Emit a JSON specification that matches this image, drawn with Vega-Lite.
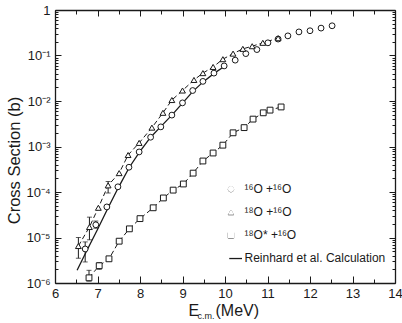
{
  "$schema": "https://vega.github.io/schema/vega-lite/v6.json",
  "width": 340,
  "height": 273,
  "autosize": "none",
  "padding": {"left": 55, "top": 10, "right": 7, "bottom": 40},
  "background": "white",
  "config": {
    "font": "Liberation Sans",
    "view": {"stroke": null},
    "axis": {"domainColor": "#1a1a1a", "domainWidth": 1.3, "tickColor": "#1a1a1a", "tickWidth": 1, "labelColor": "#1a1a1a", "titleColor": "#1a1a1a", "grid": false, "labelFont": "Liberation Sans", "titleFont": "Liberation Sans", "titleFontWeight": "normal"},
    "legend": {"labelFont": "Liberation Sans"}
  },
  "datasets": {
    "points": [
      {"E": 6.71, "xs": 5.6e-6, "series": "¹⁶O +¹⁶O"},
      {"E": 6.96, "xs": 1.9e-5, "series": "¹⁶O +¹⁶O"},
      {"E": 7.22, "xs": 4.7e-5, "series": "¹⁶O +¹⁶O"},
      {"E": 7.48, "xs": 1.3e-4, "series": "¹⁶O +¹⁶O"},
      {"E": 7.74, "xs": 3.5e-4, "series": "¹⁶O +¹⁶O"},
      {"E": 7.98, "xs": 7.6e-4, "series": "¹⁶O +¹⁶O"},
      {"E": 8.25, "xs": 1.6e-3, "series": "¹⁶O +¹⁶O"},
      {"E": 8.49, "xs": 2.7e-3, "series": "¹⁶O +¹⁶O"},
      {"E": 8.75, "xs": 4.9e-3, "series": "¹⁶O +¹⁶O"},
      {"E": 9.0, "xs": 9.1e-3, "series": "¹⁶O +¹⁶O"},
      {"E": 9.24, "xs": 1.7e-2, "series": "¹⁶O +¹⁶O"},
      {"E": 9.48, "xs": 2.7e-2, "series": "¹⁶O +¹⁶O"},
      {"E": 9.74, "xs": 4.1e-2, "series": "¹⁶O +¹⁶O"},
      {"E": 9.98, "xs": 5.9e-2, "series": "¹⁶O +¹⁶O"},
      {"E": 10.24, "xs": 7.9e-2, "series": "¹⁶O +¹⁶O"},
      {"E": 10.49, "xs": 0.11, "series": "¹⁶O +¹⁶O"},
      {"E": 10.75, "xs": 0.135, "series": "¹⁶O +¹⁶O"},
      {"E": 11.01, "xs": 0.19, "series": "¹⁶O +¹⁶O"},
      {"E": 11.25, "xs": 0.23, "series": "¹⁶O +¹⁶O"},
      {"E": 11.48, "xs": 0.27, "series": "¹⁶O +¹⁶O"},
      {"E": 11.74, "xs": 0.33, "series": "¹⁶O +¹⁶O"},
      {"E": 12.0, "xs": 0.35, "series": "¹⁶O +¹⁶O"},
      {"E": 12.26, "xs": 0.4, "series": "¹⁶O +¹⁶O"},
      {"E": 12.52, "xs": 0.45, "series": "¹⁶O +¹⁶O"},
      {"E": 6.55, "xs": 6.5e-6, "series": "¹⁸O +¹⁶O"},
      {"E": 6.81, "xs": 1.7e-5, "series": "¹⁸O +¹⁶O"},
      {"E": 7.02, "xs": 4.5e-5, "series": "¹⁸O +¹⁶O"},
      {"E": 7.25, "xs": 1.4e-4, "series": "¹⁸O +¹⁶O"},
      {"E": 7.51, "xs": 2.6e-4, "series": "¹⁸O +¹⁶O"},
      {"E": 7.72, "xs": 6.5e-4, "series": "¹⁸O +¹⁶O"},
      {"E": 7.98, "xs": 1.2e-3, "series": "¹⁸O +¹⁶O"},
      {"E": 8.28, "xs": 2.6e-3, "series": "¹⁸O +¹⁶O"},
      {"E": 8.54, "xs": 5.5e-3, "series": "¹⁸O +¹⁶O"},
      {"E": 8.75, "xs": 1.05e-2, "series": "¹⁸O +¹⁶O"},
      {"E": 9.0, "xs": 1.7e-2, "series": "¹⁸O +¹⁶O"},
      {"E": 9.27, "xs": 2.9e-2, "series": "¹⁸O +¹⁶O"},
      {"E": 9.48, "xs": 4.1e-2, "series": "¹⁸O +¹⁶O"},
      {"E": 9.72, "xs": 5.6e-2, "series": "¹⁸O +¹⁶O"},
      {"E": 9.95, "xs": 8.3e-2, "series": "¹⁸O +¹⁶O"},
      {"E": 10.19, "xs": 0.11, "series": "¹⁸O +¹⁶O"},
      {"E": 10.42, "xs": 0.14, "series": "¹⁸O +¹⁶O"},
      {"E": 10.64, "xs": 0.16, "series": "¹⁸O +¹⁶O"},
      {"E": 10.89, "xs": 0.19, "series": "¹⁸O +¹⁶O"},
      {"E": 11.25, "xs": 0.24, "series": "¹⁸O +¹⁶O"},
      {"E": 6.8, "xs": 1.3e-6, "series": "¹⁸O* +¹⁶O"},
      {"E": 7.04, "xs": 2.4e-6, "series": "¹⁸O* +¹⁶O"},
      {"E": 7.27, "xs": 3.4e-6, "series": "¹⁸O* +¹⁶O"},
      {"E": 7.51, "xs": 8.3e-6, "series": "¹⁸O* +¹⁶O"},
      {"E": 7.75, "xs": 1.55e-5, "series": "¹⁸O* +¹⁶O"},
      {"E": 8.0, "xs": 2.6e-5, "series": "¹⁸O* +¹⁶O"},
      {"E": 8.31, "xs": 4.5e-5, "series": "¹⁸O* +¹⁶O"},
      {"E": 8.55, "xs": 7.4e-5, "series": "¹⁸O* +¹⁶O"},
      {"E": 8.78, "xs": 1.1e-4, "series": "¹⁸O* +¹⁶O"},
      {"E": 9.02, "xs": 1.5e-4, "series": "¹⁸O* +¹⁶O"},
      {"E": 9.25, "xs": 2.6e-4, "series": "¹⁸O* +¹⁶O"},
      {"E": 9.48, "xs": 4.8e-4, "series": "¹⁸O* +¹⁶O"},
      {"E": 9.72, "xs": 7.2e-4, "series": "¹⁸O* +¹⁶O"},
      {"E": 9.95, "xs": 1.07e-3, "series": "¹⁸O* +¹⁶O"},
      {"E": 10.19, "xs": 2.0e-3, "series": "¹⁸O* +¹⁶O"},
      {"E": 10.45, "xs": 2.6e-3, "series": "¹⁸O* +¹⁶O"},
      {"E": 10.66, "xs": 4.0e-3, "series": "¹⁸O* +¹⁶O"},
      {"E": 10.9, "xs": 5.5e-3, "series": "¹⁸O* +¹⁶O"},
      {"E": 11.06, "xs": 6.3e-3, "series": "¹⁸O* +¹⁶O"},
      {"E": 11.32, "xs": 7.4e-3, "series": "¹⁸O* +¹⁶O"}
    ],
    "errors": [
      {"E": 6.55, "lo": 3.5e-6, "hi": 1.0e-5},
      {"E": 6.81, "lo": 8.9e-6, "hi": 2.8e-5},
      {"E": 6.71, "lo": 2.9e-6, "hi": 8.0e-6},
      {"E": 6.96, "lo": 1.6e-5, "hi": 2.3e-5},
      {"E": 7.25, "lo": 9.5e-5, "hi": 1.7e-4},
      {"E": 6.8, "lo": 1.1e-6, "hi": 1.9e-6},
      {"E": 7.04, "lo": 2.0e-6, "hi": 2.8e-6}
    ],
    "calc": [
      {"E": 6.52, "xs": 1.9e-6},
      {"E": 6.75, "xs": 5.2e-6},
      {"E": 7.0, "xs": 1.5e-5},
      {"E": 7.25, "xs": 4.5e-5},
      {"E": 7.5, "xs": 1.3e-4},
      {"E": 7.75, "xs": 3.5e-4},
      {"E": 8.0, "xs": 7.8e-4},
      {"E": 8.25, "xs": 1.6e-3},
      {"E": 8.5, "xs": 2.8e-3},
      {"E": 8.75, "xs": 4.9e-3},
      {"E": 9.0, "xs": 9.0e-3},
      {"E": 9.25, "xs": 1.65e-2},
      {"E": 9.5, "xs": 2.7e-2},
      {"E": 9.75, "xs": 4.1e-2},
      {"E": 10.0, "xs": 5.9e-2}
    ],
    "key": [{"k": 1}]
  },
  "resolve": {"axis": {"x": "independent", "y": "independent"}},
  "layer": [
    {
      "data": {"name": "calc"},
      "mark": {"type": "line", "color": "#1a1a1a", "strokeWidth": 1.3},
      "encoding": {
        "x": {"field": "E", "type": "quantitative", "scale": {"domain": [6, 14], "nice": false, "zero": false},
          "axis": {
            "orient": "bottom",
            "values": [6, 6.5, 7, 7.5, 8, 8.5, 9, 9.5, 10, 10.5, 11, 11.5, 12, 12.5, 13, 13.5, 14],
            "labelExpr": "datum.value % 1 === 0 ? format(datum.value, 'd') : ''",
            "tickSize": {"condition": {"test": "datum.value % 1 === 0", "value": -7}, "value": -4},
            "labelPadding": 11,
            "labelFontSize": 13,
            "labelFlush": false,
            "labelOverlap": false,
            "title": "E",
            "titleFontSize": 16,
            "titleX": 133,
            "titleY": 32,
            "titleAlign": "left",
            "titleBaseline": "alphabetic",
            "titleAnchor": null
          }},
        "y": {"field": "xs", "type": "quantitative", "scale": {"type": "log", "domain": [1e-6, 1], "nice": false},
          "axis": {
            "orient": "left",
            "values": [1e-6, 2e-6, 3e-6, 4e-6, 5e-6, 6e-6, 7e-6, 8e-6, 9e-6, 1e-5, 2e-5, 3e-5, 4e-5, 5e-5, 6e-5, 7e-5, 8e-5, 9e-5, 1e-4, 2e-4, 3e-4, 4e-4, 5e-4, 6e-4, 7e-4, 8e-4, 9e-4, 1e-3, 2e-3, 3e-3, 4e-3, 5e-3, 6e-3, 7e-3, 8e-3, 9e-3, 1e-2, 2e-2, 3e-2, 4e-2, 5e-2, 6e-2, 7e-2, 8e-2, 9e-2, 0.1, 0.2, 0.3, 0.4, 0.5, 0.6, 0.7, 0.8, 0.9, 1],
            "labelExpr": "abs(log(datum.value)/LN10 - round(log(datum.value)/LN10)) < 0.01 ? (datum.value > 0.5 ? '1' : '10' + ['', '⁻¹', '⁻²', '⁻³', '⁻⁴', '⁻⁵', '⁻⁶'][round(-log(datum.value)/LN10)]) : ''",
            "tickSize": {"condition": {"test": "abs(log(datum.value)/LN10 - round(log(datum.value)/LN10)) < 0.01", "value": -6}, "value": -3},
            "labelPadding": 11,
            "labelFontSize": 13,
            "labelFlush": false,
            "labelOverlap": false,
            "labelBaseline": "middle",
            "title": "Cross Section (b)",
            "titleFontSize": 16.5,
            "titleX": -41,
            "titleY": 150,
            "titleAngle": 270,
            "titleAlign": "center",
            "titleBaseline": "middle",
            "titleAnchor": null
          }}
      }
    },
    {
      "data": {"name": "points"},
      "transform": [{"filter": "datum.series !== '¹⁶O +¹⁶O'"}],
      "mark": {"type": "line", "color": "#1a1a1a", "strokeWidth": 1, "strokeDash": [5, 3]},
      "encoding": {
        "x": {"field": "E", "type": "quantitative", "scale": {"domain": [6, 14], "nice": false, "zero": false},
          "axis": {
            "orient": "top",
            "values": [6, 6.5, 7, 7.5, 8, 8.5, 9, 9.5, 10, 10.5, 11, 11.5, 12, 12.5, 13, 13.5, 14],
            "labels": false,
            "tickSize": {"condition": {"test": "datum.value % 1 === 0", "value": -6}, "value": -4},
            "title": "c.m.",
            "titleFontSize": 9,
            "titleX": 142,
            "titleY": 308,
            "titleAlign": "left",
            "titleBaseline": "alphabetic",
            "titleAnchor": null
          }},
        "y": {"field": "xs", "type": "quantitative", "scale": {"type": "log", "domain": [1e-6, 1], "nice": false},
          "axis": {
            "orient": "right",
            "values": [1e-6, 2e-6, 3e-6, 4e-6, 5e-6, 6e-6, 7e-6, 8e-6, 9e-6, 1e-5, 2e-5, 3e-5, 4e-5, 5e-5, 6e-5, 7e-5, 8e-5, 9e-5, 1e-4, 2e-4, 3e-4, 4e-4, 5e-4, 6e-4, 7e-4, 8e-4, 9e-4, 1e-3, 2e-3, 3e-3, 4e-3, 5e-3, 6e-3, 7e-3, 8e-3, 9e-3, 1e-2, 2e-2, 3e-2, 4e-2, 5e-2, 6e-2, 7e-2, 8e-2, 9e-2, 0.1, 0.2, 0.3, 0.4, 0.5, 0.6, 0.7, 0.8, 0.9, 1],
            "labels": false,
            "tickSize": {"condition": {"test": "abs(log(datum.value)/LN10 - round(log(datum.value)/LN10)) < 0.01", "value": -6}, "value": -3},
            "title": "(MeV)",
            "titleFontSize": 16,
            "titleX": -180,
            "titleY": 305,
            "titleAngle": 0,
            "titleAlign": "left",
            "titleBaseline": "alphabetic",
            "titleAnchor": null
          }},
        "detail": {"field": "series"}
      }
    },
    {
      "data": {"name": "errors"},
      "mark": {"type": "errorbar", "ticks": {"size": 5, "color": "#1a1a1a"}, "rule": {"color": "#1a1a1a", "strokeWidth": 1}},
      "encoding": {
        "x": {"field": "E", "type": "quantitative", "scale": {"domain": [6, 14], "nice": false, "zero": false}, "axis": null},
        "y": {"field": "lo", "type": "quantitative", "scale": {"type": "log", "domain": [1e-6, 1], "nice": false}, "axis": null},
        "y2": {"field": "hi"}
      }
    },
    {
      "data": {"name": "points"},
      "mark": {"type": "point", "filled": true, "fill": "white", "stroke": "#1a1a1a", "strokeWidth": 1, "size": 34, "opacity": 1},
      "encoding": {
        "x": {"field": "E", "type": "quantitative", "scale": {"domain": [6, 14], "nice": false, "zero": false}, "axis": null},
        "y": {"field": "xs", "type": "quantitative", "scale": {"type": "log", "domain": [1e-6, 1], "nice": false}, "axis": null},
        "shape": {"field": "series", "type": "nominal",
          "scale": {"domain": ["¹⁶O +¹⁶O", "¹⁸O +¹⁶O", "¹⁸O* +¹⁶O", "Reinhard et al. Calculation"], "range": ["circle", "triangle-up", "square", "M-0.3,0L3.7,0"]},
          "legend": {
            "orient": "none", "legendX": 170, "legendY": 173, "title": null,
            "symbolSize": 36, "symbolFillColor": "white", "symbolStrokeColor": "#1a1a1a", "symbolStrokeWidth": 1.1, "symbolOpacity": 1,
            "labelFontSize": 12, "labelOffset": 7.5, "rowPadding": 11, "labelColor": "#1a1a1a"
          }}
      }
    },
    {
      "data": {"name": "key"},
      "mark": {"type": "point", "shape": "circle", "filled": true, "fill": "white", "stroke": "#1a1a1a", "strokeWidth": 1, "size": 30},
      "encoding": {
        "x": {"datum": 10.14, "type": "quantitative", "scale": {"domain": [6, 14], "nice": false, "zero": false}, "axis": null},
        "y": {"datum": 1.149e-4, "type": "quantitative", "scale": {"type": "log", "domain": [1e-6, 1], "nice": false}, "axis": null}
      }
    },
    {
      "data": {"name": "key"},
      "mark": {"type": "point", "shape": "triangle-up", "filled": true, "fill": "white", "stroke": "#1a1a1a", "strokeWidth": 1, "size": 30},
      "encoding": {
        "x": {"datum": 10.14, "type": "quantitative", "scale": {"domain": [6, 14], "nice": false, "zero": false}, "axis": null},
        "y": {"datum": 3.55e-5, "type": "quantitative", "scale": {"type": "log", "domain": [1e-6, 1], "nice": false}, "axis": null}
      }
    },
    {
      "data": {"name": "key"},
      "mark": {"type": "point", "shape": "square", "filled": true, "fill": "white", "stroke": "#1a1a1a", "strokeWidth": 1, "size": 30},
      "encoding": {
        "x": {"datum": 10.14, "type": "quantitative", "scale": {"domain": [6, 14], "nice": false, "zero": false}, "axis": null},
        "y": {"datum": 1.11e-5, "type": "quantitative", "scale": {"type": "log", "domain": [1e-6, 1], "nice": false}, "axis": null}
      }
    },
    {
      "data": {"name": "key"},
      "mark": {"type": "rule", "color": "#1a1a1a", "strokeWidth": 1.3},
      "encoding": {
        "x": {"datum": 10.1, "type": "quantitative", "scale": {"domain": [6, 14], "nice": false, "zero": false}, "axis": null},
        "x2": {"datum": 10.4},
        "y": {"datum": 3.45e-6, "type": "quantitative", "scale": {"type": "log", "domain": [1e-6, 1], "nice": false}, "axis": null}
      }
    }
  ]
}
